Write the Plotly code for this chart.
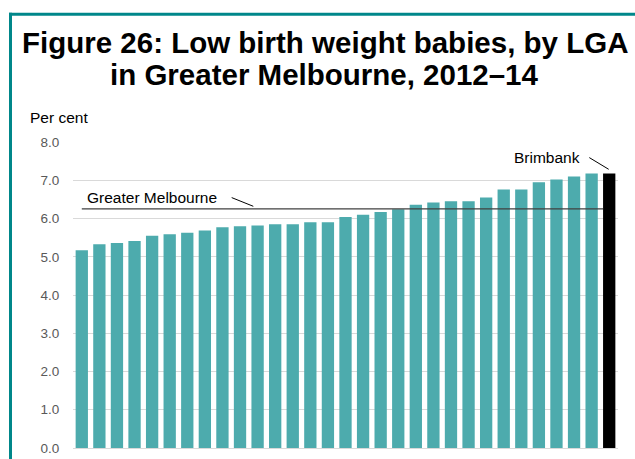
import plotly.graph_objects as go

# Data (LGAs sorted ascending; last bar is Brimbank)
lga_index = list(range(31))
values = [5.17, 5.33, 5.36, 5.41, 5.55, 5.59, 5.63, 5.69, 5.77, 5.80,
          5.82, 5.85, 5.85, 5.90, 5.90, 6.04, 6.10, 6.17, 6.24, 6.36,
          6.42, 6.45, 6.45, 6.55, 6.76, 6.76, 6.95, 7.02, 7.10, 7.18, 7.18]
highlight_name = "Brimbank"
greater_melbourne = 6.25
y_ticks = [0, 1, 2, 3, 4, 5, 6, 7, 8]
y_tick_labels = ["0.0", "1.0", "2.0", "3.0", "4.0", "5.0", "6.0", "7.0", "8.0"]

TEAL = "#4DABAD"
BORDER = "#00878A"
FONT = "Liberation Sans, Arial, sans-serif"
bargap = 0.3

colors = [TEAL] * (len(values) - 1) + ["#000000"]

fig = go.Figure()
fig.add_trace(go.Bar(x=lga_index, y=values, marker=dict(color=colors, line=dict(width=0)),
                     hoverinfo="y"))

n = len(values)
line_end = (n - 1) - (1 - bargap) / 2
fig.add_trace(go.Scatter(x=[0, line_end], y=[greater_melbourne, greater_melbourne],
                         mode="lines", line=dict(color="#404040", width=1.3),
                         hoverinfo="skip"))

# plot area geometry in px (for annotation placement)
L, R, T, B = 73, 17, 141.7, 11.3
W = 635 - L - R
H = 459 - T - B

def px(x):
    return (x - L) / W

def py(y):
    return (459 - B - y) / H

annotations = [
    dict(text="<b>Figure 26: Low birth weight babies, by LGA</b>", x=px(324.5), y=py(42),
         xref="paper", yref="paper", xanchor="center", yanchor="middle", showarrow=False,
         font=dict(family=FONT, size=29.5, color="#000000")),
    dict(text="<b>in Greater Melbourne, 2012–14</b>", x=px(324.5), y=py(74),
         xref="paper", yref="paper", xanchor="center", yanchor="middle", showarrow=False,
         font=dict(family=FONT, size=29.5, color="#000000")),
    dict(text="Per cent", x=px(28), y=py(116.7), xref="paper", yref="paper",
         xanchor="left", yanchor="middle", showarrow=False,
         font=dict(family=FONT, size=15.5, color="#000000")),
    dict(text="Greater Melbourne", x=px(85), y=py(196.7), xref="paper", yref="paper",
         xanchor="left", yanchor="middle", showarrow=False,
         font=dict(family=FONT, size=15.5, color="#000000")),
    dict(text=highlight_name, x=px(582), y=py(156.7), xref="paper", yref="paper",
         xanchor="right", yanchor="middle", showarrow=False,
         font=dict(family=FONT, size=15.5, color="#000000")),
]

shapes = [
    # leader lines
    dict(type="line", xref="paper", yref="paper", x0=px(231.7), y0=py(197.3), x1=px(253.3), y1=py(206),
         line=dict(color="#000000", width=1)),
    dict(type="line", xref="paper", yref="paper", x0=px(589.3), y0=py(157.3), x1=px(608.7), y1=py(169),
         line=dict(color="#000000", width=1)),
    # teal frame
    dict(type="line", xref="paper", yref="paper", x0=px(9), y0=py(14), x1=px(640), y1=py(14),
         line=dict(color=BORDER, width=3)),
    dict(type="line", xref="paper", yref="paper", x0=px(10.5), y0=py(12.5), x1=px(10.5), y1=py(465),
         line=dict(color=BORDER, width=3)),
]

fig.update_layout(
    width=635, height=459,
    margin=dict(l=L, r=R, t=T, b=B, pad=0, autoexpand=False),
    paper_bgcolor="white", plot_bgcolor="white",
    showlegend=False, bargap=bargap,
    font=dict(family=FONT),
    annotations=annotations, shapes=shapes,
    xaxis=dict(range=[-0.5, n - 0.5], showticklabels=False, showgrid=False, zeroline=False,
               showline=False, ticks="", fixedrange=True, automargin=False),
    yaxis=dict(range=[0, 8.001], tickvals=y_ticks, ticktext=y_tick_labels,
               showgrid=True, gridcolor="#D9D9D9", gridwidth=1,
               zeroline=True, zerolinecolor="#D9D9D9", zerolinewidth=1,
               showline=False, ticks="outside", ticklen=10, tickcolor="rgba(0,0,0,0)",
               tickfont=dict(family=FONT, size=13.5, color="#595959"), fixedrange=True,
               automargin=False),
)

fig.write_html("out.html", config={"displayModeBar": False},
               post_script="document.body.style.margin='0';document.body.style.overflow='hidden';")
